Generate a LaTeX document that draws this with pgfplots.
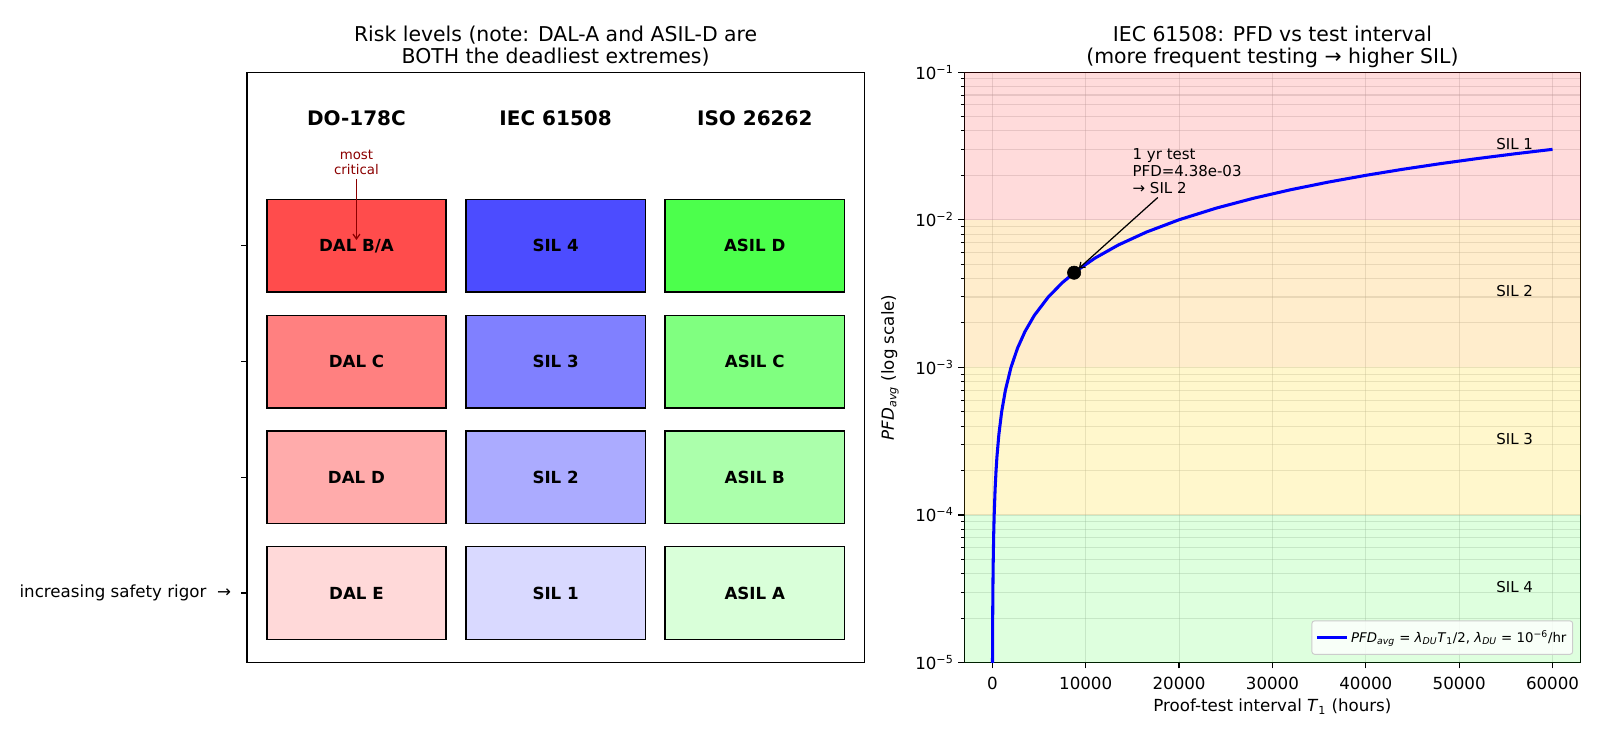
\documentclass[border=0pt]{standalone}
\usepackage{fontspec}
\setmainfont{DejaVu Sans}
\usepackage{pgfplots}
\usepackage{pgfplotstable}
\pgfplotsset{compat=1.18}
\usetikzlibrary{arrows.meta}

\definecolor{bandorange}{RGB}{255,165,0}
\definecolor{bandgold}{RGB}{255,215,0}
\definecolor{darkred}{RGB}{139,0,0}
\definecolor{gridgray}{RGB}{176,176,176}

% PFD_avg = lambda_DU * T1 / 2 with lambda_DU = 1e-6 per hour
\pgfplotstableread{
T      pfd
10     5e-6
20     1e-5
30     1.5e-5
40     2e-5
50     2.5e-5
75     3.75e-5
100    5e-5
150    7.5e-5
200    1e-4
300    1.5e-4
400    2e-4
500    2.5e-4
700    3.5e-4
1000   5e-4
1400   7e-4
2000   1e-3
2700   1.35e-3
3500   1.75e-3
4500   2.25e-3
6000   3e-3
7500   3.75e-3
9000   4.5e-3
11000  5.5e-3
13500  6.75e-3
16500  8.25e-3
20000  1e-2
24000  1.2e-2
28000  1.4e-2
32000  1.6e-2
36000  1.8e-2
40000  2e-2
44000  2.2e-2
48000  2.4e-2
52000  2.6e-2
56000  2.8e-2
60000  3e-2
}\pfdcurve

\begin{document}
\begin{tikzpicture}
\path[use as bounding box] (0,0) rectangle (1152pt,531.36pt);

% ---------------- left panel: risk-level grid ----------------
\begin{axis}[
  name=levels,
  at={(177.8pt,54.3pt)}, anchor=south west,
  width=444.5pt, height=425.1pt, scale only axis,
  xmin=-0.55, xmax=2.55, ymin=-0.6, ymax=4.5,
  xtick=\empty,
  ytick={0,1,2,3},
  yticklabels={increasing safety rigor\ \ →,{},{},{}},
  yticklabel style={xshift=-3.7pt},
  tick align=outside, ytick pos=left,
  major tick length=4.2pt,
  tick style={black, line width=0.9pt},
  axis line style={line width=0.9pt},
  tick label style={font=\fontsize{12}{14}\selectfont},
  title={Risk levels (note: DAL-A and ASIL-D are\\BOTH the deadliest extremes)\strut},
  title style={font=\fontsize{14.7}{15.6}\selectfont, align=center,
    at={(0.5,1)}, anchor=south, inner sep=0pt, yshift=-4.5pt},
]
% DO-178C column
\addplot[fill=red!70, draw=black, line width=1pt] coordinates {(-0.45,2.6) (0.45,2.6) (0.45,3.4) (-0.45,3.4)} --cycle;
\addplot[fill=red!50, draw=black, line width=1pt] coordinates {(-0.45,1.6) (0.45,1.6) (0.45,2.4) (-0.45,2.4)} --cycle;
\addplot[fill=red!33, draw=black, line width=1pt] coordinates {(-0.45,0.6) (0.45,0.6) (0.45,1.4) (-0.45,1.4)} --cycle;
\addplot[fill=red!15, draw=black, line width=1pt] coordinates {(-0.45,-0.4) (0.45,-0.4) (0.45,0.4) (-0.45,0.4)} --cycle;
% IEC 61508 column
\addplot[fill=blue!70, draw=black, line width=1pt] coordinates {(0.55,2.6) (1.45,2.6) (1.45,3.4) (0.55,3.4)} --cycle;
\addplot[fill=blue!50, draw=black, line width=1pt] coordinates {(0.55,1.6) (1.45,1.6) (1.45,2.4) (0.55,2.4)} --cycle;
\addplot[fill=blue!33, draw=black, line width=1pt] coordinates {(0.55,0.6) (1.45,0.6) (1.45,1.4) (0.55,1.4)} --cycle;
\addplot[fill=blue!15, draw=black, line width=1pt] coordinates {(0.55,-0.4) (1.45,-0.4) (1.45,0.4) (0.55,0.4)} --cycle;
% ISO 26262 column
\addplot[fill=green!70, draw=black, line width=1pt] coordinates {(1.55,2.6) (2.45,2.6) (2.45,3.4) (1.55,3.4)} --cycle;
\addplot[fill=green!50, draw=black, line width=1pt] coordinates {(1.55,1.6) (2.45,1.6) (2.45,2.4) (1.55,2.4)} --cycle;
\addplot[fill=green!33, draw=black, line width=1pt] coordinates {(1.55,0.6) (2.45,0.6) (2.45,1.4) (1.55,1.4)} --cycle;
\addplot[fill=green!15, draw=black, line width=1pt] coordinates {(1.55,-0.4) (2.45,-0.4) (2.45,0.4) (1.55,0.4)} --cycle;

\begin{scope}[font=\fontsize{14.4}{16}\selectfont\bfseries]
\node at (axis cs:0,4.1) {DO-178C};
\node at (axis cs:1,4.1) {IEC 61508};
\node at (axis cs:2,4.1) {ISO 26262};
\end{scope}
\begin{scope}[font=\fontsize{12}{14}\selectfont\bfseries]
\node at (axis cs:0,3) {DAL B/A};
\node at (axis cs:0,2) {DAL C};
\node at (axis cs:0,1) {DAL D};
\node at (axis cs:0,0) {DAL E};
\node at (axis cs:1,3) {SIL 4};
\node at (axis cs:1,2) {SIL 3};
\node at (axis cs:1,1) {SIL 2};
\node at (axis cs:1,0) {SIL 1};
\node at (axis cs:2,3) {ASIL D};
\node at (axis cs:2,2) {ASIL C};
\node at (axis cs:2,1) {ASIL B};
\node at (axis cs:2,0) {ASIL A};
\end{scope}
\node[darkred, font=\fontsize{9.6}{10.8}\selectfont, align=center, inner sep=3pt]
  (crit) at (axis cs:0,3.72) {most\\critical};
\draw[-{Straight Barb[length=3.5pt,width=5pt]}, darkred, line width=0.9pt]
  (crit.south) -- (axis cs:0,3.05);
\end{axis}

% ---------------- right panel: PFD vs proof-test interval ----------------
\begin{axis}[
  name=pfd,
  at={(694.3pt,54.3pt)}, anchor=south west,
  width=443.7pt, height=425.1pt, scale only axis,
  xmin=-3000, xmax=63000,
  ymode=log, ymin=1e-5, ymax=1e-1,
  scaled x ticks=false,
  xtick={0,10000,20000,30000,40000,50000,60000},
  xticklabels={0,10000,20000,30000,40000,50000,60000},
  xticklabel style={yshift=-2.5pt},
  ytick={1e-5,1e-4,1e-3,1e-2,1e-1},
  yticklabels={10\textsuperscript{−5},10\textsuperscript{−4},10\textsuperscript{−3},10\textsuperscript{−2},10\textsuperscript{−1}},
  minor ytick={2e-5,3e-5,4e-5,5e-5,6e-5,7e-5,8e-5,9e-5,
               2e-4,3e-4,4e-4,5e-4,6e-4,7e-4,8e-4,9e-4,
               2e-3,3e-3,4e-3,5e-3,6e-3,7e-3,8e-3,9e-3,
               2e-2,3e-2,4e-2,5e-2,6e-2,7e-2,8e-2,9e-2},
  tick align=outside, tick pos=left,
  major tick length=4.2pt, minor tick length=2.4pt,
  tick style={black, line width=0.9pt},
  minor tick style={black, line width=0.7pt},
  axis line style={line width=0.9pt},
  grid=both,
  major grid style={gridgray, opacity=0.35, line width=0.8pt},
  minor grid style={gridgray, opacity=0.35, line width=0.8pt},
  tick label style={font=\fontsize{12}{14}\selectfont},
  xlabel={Proof-test interval \textit{T}\textsubscript{1} (hours)},
  xlabel style={font=\fontsize{12}{14}\selectfont, at={(axis description cs:0.5,0)}, anchor=center, yshift=-31.7pt},
  ylabel={\textit{PFD}\textsubscript{\textit{avg}} (log scale)},
  ylabel style={font=\fontsize{12}{14}\selectfont, at={(axis description cs:-0.1206,0.5)}, anchor=center},
  title={IEC 61508: PFD vs test interval\\(more frequent testing → higher SIL)\strut},
  title style={font=\fontsize{14.7}{15.6}\selectfont, align=center,
    at={(0.5,1)}, anchor=south, inner sep=0pt, yshift=-4.5pt},
  legend style={at={(1,0)}, anchor=south east, xshift=-5.3pt, yshift=5.6pt,
    font=\fontsize{9.6}{11}\selectfont, fill=white, fill opacity=0.8, text opacity=1,
    draw=black!20, rounded corners=2pt, line width=0.7pt,
    inner xsep=2.5pt, inner ysep=5pt,
    /tikz/every even column/.append style={column sep=2.5pt}},
  legend image code/.code={\draw[#1] (0pt,0pt) -- (21.6pt,0pt);},
]
% SIL bands
\addplot[forget plot, draw=none, fill=red, fill opacity=0.14] coordinates {(-3000,1e-2) (63000,1e-2) (63000,1e-1) (-3000,1e-1)} --cycle;
\addplot[forget plot, draw=none, fill=bandorange, fill opacity=0.2] coordinates {(-3000,1e-3) (63000,1e-3) (63000,1e-2) (-3000,1e-2)} --cycle;
\addplot[forget plot, draw=none, fill=bandgold, fill opacity=0.2] coordinates {(-3000,1e-4) (63000,1e-4) (63000,1e-3) (-3000,1e-3)} --cycle;
\addplot[forget plot, draw=none, fill=green, fill opacity=0.13] coordinates {(-3000,1e-5) (63000,1e-5) (63000,1e-4) (-3000,1e-4)} --cycle;

\addplot[blue, line width=2.2pt, line join=round] table[x=T, y=pfd] {\pfdcurve};
\addlegendentry{\textit{PFD}\textsubscript{\textit{avg}} = \textit{λ}\textsubscript{\textit{DU}}\textit{T}\textsubscript{1}/2, \textit{λ}\textsubscript{\textit{DU}} = 10\textsuperscript{−6}/hr}

% one-year proof test
\addplot[forget plot, only marks, mark=*, mark size=4.8pt, black] coordinates {(8760,4.38e-3)};

\begin{scope}[font=\fontsize{10.8}{13}\selectfont]
\node[anchor=west, yshift=1.5pt] at (axis cs:53450,3.16e-2) {SIL 1};
\node[anchor=west, yshift=1.5pt] at (axis cs:53450,3.16e-3) {SIL 2};
\node[anchor=west, yshift=1.5pt] at (axis cs:53450,3.16e-4) {SIL 3};
\node[anchor=west, yshift=1.5pt] at (axis cs:53450,3.16e-5) {SIL 4};
\node[anchor=south west, align=left, inner sep=0pt, font=\fontsize{10.8}{12.1}\selectfont]
  (ann) at (axis cs:15000,0.015) {1 yr test\\PFD=4.38e-03\\→ SIL 2};
\end{scope}
\draw[-{Straight Barb[length=3.5pt,width=5pt]}, black, line width=0.9pt, shorten <=4pt, shorten >=4.5pt]
  (ann) -- (axis cs:8760,4.38e-3);
\end{axis}
\end{tikzpicture}
\end{document}
